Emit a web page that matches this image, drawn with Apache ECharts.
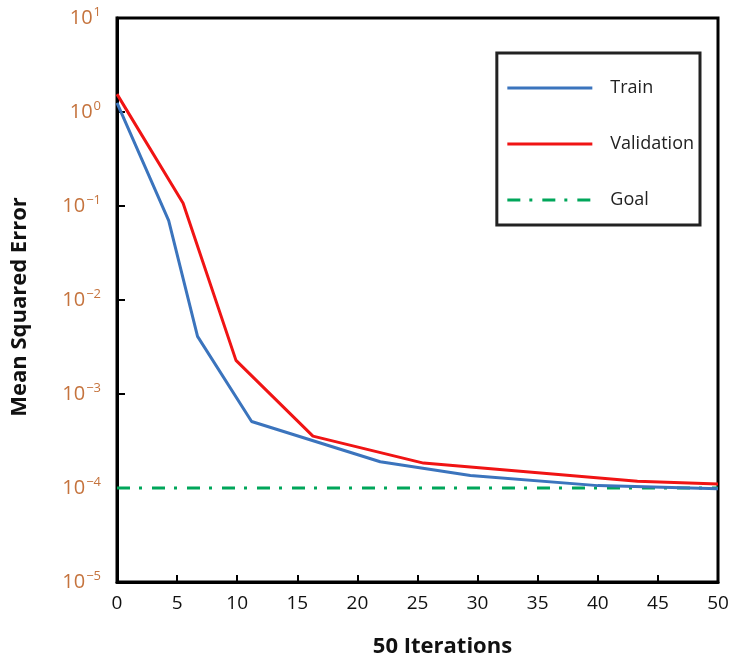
<!DOCTYPE html>
<html>
<head>
<meta charset="utf-8">
<script src="https://cdn.jsdelivr.net/npm/echarts@6/dist/echarts.min.js"></script>
<style>html,body{margin:0;padding:0;background:#fff;}#c{width:736px;height:664px;}</style>
</head>
<body>
<div id="c"></div>
<script>
const trainX = [0, 4.3, 6.7, 11.2, 21.9, 29.4, 40, 50];
const trainY = [1.25, 0.07, 0.0041, 0.00051, 0.00019, 0.000136, 0.000106, 0.000098];
const valX = [0, 5.5, 9.9, 16.3, 25.5, 43.3, 50];
const valY = [1.55, 0.107, 0.00228, 0.000356, 0.000184, 0.000118, 0.00011];
const goalX = [0, 50];
const goalY = [0.0001, 0.0001];
const seriesNames = ['Train', 'Validation', 'Goal'];
const xTicks = [0, 5, 10, 15, 20, 25, 30, 35, 40, 45, 50];

const zip = (xs, ys) => xs.map((x, i) => [x, ys[i]]);
const font = '"Open Sans", "Liberation Sans", sans-serif';

const chart = echarts.init(document.getElementById('c'));
chart.setOption({
  animation: false,
  backgroundColor: '#fff',
  grid: { left: 117, right: 18, top: 18, bottom: 82, show: true, borderColor: '#000', borderWidth: 3, backgroundColor: 'transparent' },
  legend: {
    orient: 'vertical',
    right: 36, top: 53,
    data: seriesNames,
    itemWidth: 85, itemHeight: 14,
    itemGap: 38,
    padding: [26, 6, 16, 9],
    borderColor: '#222', borderWidth: 3,
    itemStyle: { opacity: 0 },
    lineStyle: { width: 3 },
    textStyle: { fontSize: 18, fontFamily: font, color: '#222', padding: [0, 0, 0, 13] }
  },
  xAxis: {
    type: 'value', min: 0, max: 50, interval: 5,
    name: '50 Iterations', nameLocation: 'middle', nameGap: 54,
    nameTextStyle: { fontSize: 22, fontWeight: 'bold', fontFamily: font, color: '#111', padding: [0, 0, 0, 50] },
    axisLine: { show: true, lineStyle: { color: '#000', width: 3 } },
    axisTick: { show: true, inside: true, length: 7, lineStyle: { color: '#000', width: 2 } },
    axisLabel: { fontSize: 19, fontFamily: font, color: '#111', margin: 12, formatter: v => xTicks.includes(v) ? String(v) : '' },
    splitLine: { show: false }
  },
  yAxis: {
    type: 'log', logBase: 10, min: 1e-5, max: 10,
    name: 'Mean Squared Error', nameLocation: 'middle', nameGap: 86,
    nameTextStyle: { fontSize: 22, fontWeight: 'bold', fontFamily: font, color: '#111', padding: [0, 14, 0, 0] },
    axisLine: { show: true, lineStyle: { color: '#000', width: 3 } },
    axisTick: { show: true, inside: true, length: 8, lineStyle: { color: '#000', width: 2 } },
    axisLabel: {
      margin: 16, fontFamily: font,
      formatter: v => {
        const e = Math.round(Math.log10(v));
        return '{b|10}{s|' + (e < 0 ? '\u2212' + (-e) : e) + '}';
      },
      rich: {
        b: { fontSize: 20, fontFamily: font, color: '#C5733D' },
        s: { fontSize: 13, fontFamily: font, color: '#C5733D', padding: [0, 0, 12, 1] }
      }
    },
    splitLine: { show: false }
  },
  series: [
    { name: 'Train', type: 'line', data: zip(trainX, trainY), symbol: 'none', lineStyle: { color: '#3B74BD', width: 3 }, itemStyle: { color: '#3B74BD' }, z: 3 },
    { name: 'Validation', type: 'line', data: zip(valX, valY), symbol: 'none', lineStyle: { color: '#F01414', width: 3 }, itemStyle: { color: '#F01414' }, z: 4 },
    { name: 'Goal', type: 'line', data: zip(goalX, goalY), symbol: 'none', lineStyle: { color: '#00A65A', width: 3, type: [13, 9, 3, 10] }, itemStyle: { color: '#00A65A' }, z: 2 }
  ]
});
</script>
</body>
</html>
